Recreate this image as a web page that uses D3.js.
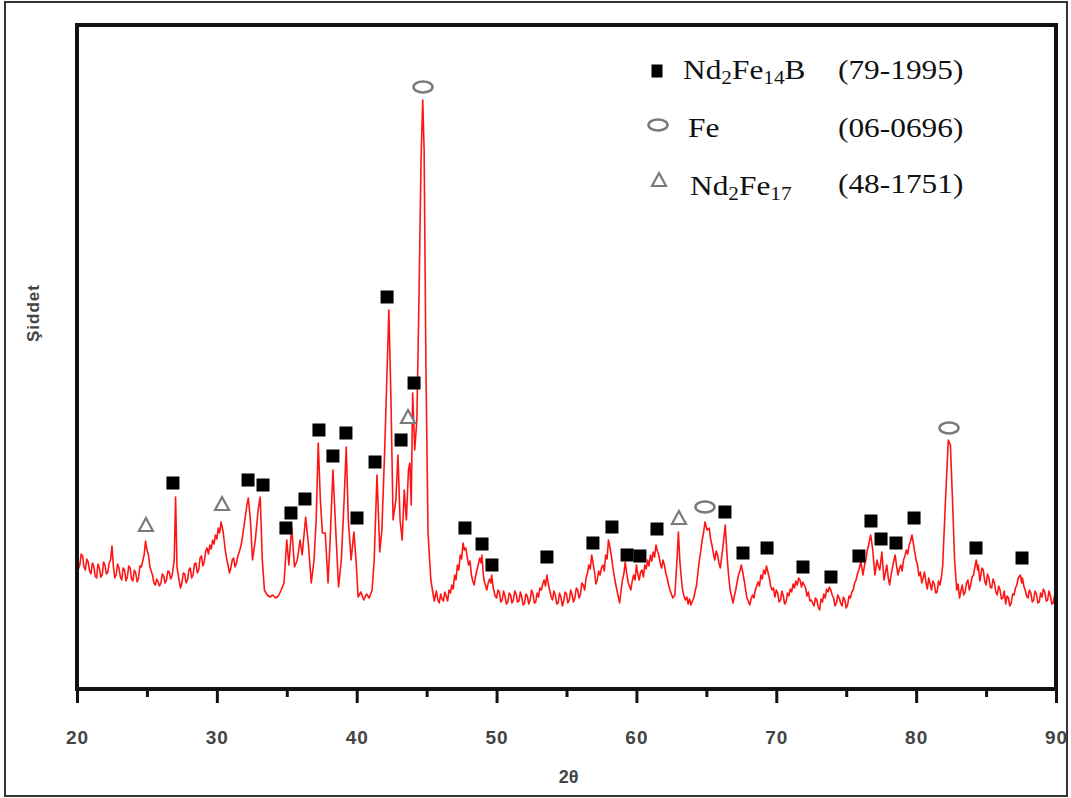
<!DOCTYPE html>
<html>
<head>
<meta charset="utf-8">
<script src="https://cdn.jsdelivr.net/npm/d3@7"></script>
<style>
  body { margin: 0; background: #fff; }
  svg { display: block; }
</style>
</head>
<body>
<svg id="chart" width="1071" height="798"></svg>
<script>
// 2θ (deg), intensity (a.u.)
const pattern = [
  [20.0,1310],[20.1,1200],[20.2,1240],[20.3,1350],[20.4,1330],[20.5,1220],[20.6,1190],[20.7,1300],[20.8,1270],[20.9,1180],
  [21.0,1150],[21.1,1260],[21.2,1230],[21.3,1130],[21.4,1110],[21.5,1250],[21.6,1210],[21.7,1120],[21.8,1140],[21.9,1270],
  [22.0,1240],[22.1,1150],[22.2,1170],[22.3,1260],[22.4,1290],[22.5,1430],[22.6,1230],[22.7,1110],[22.8,1140],[22.9,1250],
  [23.0,1210],[23.1,1120],[23.2,1090],[23.3,1210],[23.4,1190],[23.5,1080],[23.6,1120],[23.7,1230],[23.8,1210],[23.9,1100],
  [24.0,1080],[24.1,1190],[24.2,1160],[24.3,1070],[24.4,1110],[24.5,1230],[24.6,1220],[24.7,1280],[24.8,1340],[24.9,1480],
  [25.0,1390],[25.1,1350],[25.2,1230],[25.3,1180],[25.4,1140],[25.5,1060],[25.6,1040],[25.7,1100],[25.8,1070],[25.9,1030],
  [26.0,1060],[26.1,1150],[26.2,1130],[26.3,1060],[26.4,1090],[26.5,1180],[26.6,1170],[26.7,1100],[26.8,1130],[26.95,1290],
  [27.05,1920],[27.15,1220],[27.3,1090],[27.4,1010],[27.5,1060],[27.6,1160],[27.7,1150],[27.8,1060],[27.9,1090],[28.0,1190],
  [28.1,1210],[28.2,1110],[28.3,1140],[28.4,1250],[28.5,1260],[28.6,1160],[28.7,1190],[28.8,1310],[28.9,1330],[29.0,1230],
  [29.1,1270],[29.2,1380],[29.3,1410],[29.4,1350],[29.5,1440],[29.6,1400],[29.7,1490],[29.8,1450],[29.9,1540],[30.0,1500],
  [30.1,1610],[30.2,1560],[30.3,1670],[30.45,1570],[30.6,1390],[30.7,1300],[30.8,1240],[30.9,1160],[31.0,1210],[31.1,1290],
  [31.2,1310],[31.3,1220],[31.4,1260],[31.5,1330],[31.6,1370],[31.7,1420],[31.8,1490],[32.0,1690],[32.15,1840],[32.25,1910],
  [32.4,1690],[32.55,1290],[32.75,1490],[32.95,1790],[33.1,1920],[33.25,1290],[33.4,990],[33.6,940],[33.8,920],[34.0,940],
  [34.2,910],[34.4,930],[34.6,990],[34.8,1060],[35.0,1490],[35.15,1240],[35.35,1620],[35.55,1220],[35.75,1290],[35.95,1490],
  [36.1,1340],[36.35,1720],[36.55,1440],[36.75,1060],[36.95,1290],[37.1,1690],[37.25,2460],[37.4,1890],[37.55,1560],[37.75,1560],
  [37.95,1060],[38.1,1490],[38.3,2190],[38.5,1590],[38.7,1020],[38.9,1290],[39.1,1890],[39.25,2420],[39.4,1690],[39.6,1290],
  [39.8,1570],[39.95,1290],[40.1,920],[40.3,970],[40.5,890],[40.7,950],[40.9,910],[41.1,990],[41.25,1290],[41.45,2140],
  [41.65,1370],[41.8,1590],[42.0,2390],[42.15,3090],[42.3,3790],[42.45,2890],[42.6,1690],[42.8,1890],[42.95,2340],[43.1,1690],
  [43.25,1490],[43.4,1990],[43.55,1690],[43.7,2190],[43.8,2260],[43.9,1840],[44.0,2960],[44.15,2390],[44.3,2690],[44.45,3890],
  [44.6,5290],[44.72,5890],[44.82,5390],[44.95,3200],[45.1,1560],[45.3,1090],[45.45,960],[45.55,880],[45.6,920],[45.7,980],
  [45.8,890],[45.9,860],[46.0,950],[46.1,900],[46.2,880],[46.3,970],[46.4,930],[46.5,880],[46.6,990],[46.7,960],
  [46.8,1040],[46.9,1000],[47.0,1140],[47.1,1090],[47.2,1240],[47.3,1190],[47.4,1340],[47.5,1300],[47.6,1460],[47.7,1390],
  [47.8,1410],[47.9,1320],[48.0,1240],[48.1,1280],[48.2,1140],[48.3,1080],[48.4,1040],[48.5,1130],[48.6,1190],[48.7,1250],
  [48.8,1310],[48.9,1260],[48.95,1340],[49.05,1150],[49.1,1090],[49.2,1040],[49.3,990],[49.4,1060],[49.5,1100],[49.6,1060],
  [49.65,1140],[49.75,1020],[49.8,990],[49.9,930],[50.0,910],[50.1,990],[50.2,970],[50.3,870],[50.4,890],[50.5,980],
  [50.6,930],[50.7,850],[50.8,870],[50.9,960],[51.0,940],[51.1,860],[51.2,890],[51.3,980],[51.4,950],[51.5,870],
  [51.6,880],[51.7,970],[51.8,920],[51.9,840],[52.0,860],[52.1,950],[52.2,930],[52.3,850],[52.4,890],[52.5,990],
  [52.6,950],[52.7,860],[52.8,870],[52.9,960],[53.0,920],[53.1,1010],[53.2,990],[53.3,1050],[53.4,1090],[53.5,1030],
  [53.6,1140],[53.7,1050],[53.8,990],[53.9,920],[54.0,890],[54.1,980],[54.2,940],[54.3,850],[54.4,860],[54.5,960],
  [54.6,920],[54.7,830],[54.8,880],[54.9,970],[55.0,950],[55.1,860],[55.2,890],[55.3,990],[55.4,940],[55.5,870],
  [55.6,910],[55.7,1010],[55.8,990],[55.9,910],[56.0,950],[56.1,1060],[56.2,1040],[56.3,990],[56.4,1110],[56.5,1160],
  [56.6,1240],[56.7,1200],[56.8,1340],[56.9,1260],[57.0,1170],[57.1,1050],[57.2,1090],[57.3,1180],[57.4,1140],[57.5,1210],
  [57.6,1240],[57.7,1180],[57.8,1340],[57.9,1300],[58.0,1490],[58.1,1420],[58.2,1340],[58.3,1230],[58.4,1140],[58.5,1060],
  [58.6,990],[58.8,860],[58.9,980],[59.0,1090],[59.1,1150],[59.2,1270],[59.3,1160],[59.4,1070],[59.5,1030],[59.6,990],
  [59.7,1080],[59.8,1140],[59.9,1090],[60.0,1240],[60.1,1150],[60.2,1090],[60.3,1170],[60.4,1190],[60.5,1120],[60.6,1240],
  [60.7,1200],[60.8,1290],[60.9,1230],[61.0,1340],[61.1,1280],[61.2,1370],[61.3,1320],[61.4,1440],[61.5,1380],[61.6,1340],
  [61.7,1260],[61.8,1210],[61.9,1290],[62.0,1240],[62.1,1160],[62.2,1110],[62.3,1040],[62.4,990],[62.5,950],[62.6,910],
  [62.75,940],[62.9,1290],[63.0,1570],[63.1,1290],[63.2,1120],[63.3,990],[63.4,930],[63.5,890],[63.6,920],[63.7,850],
  [63.8,900],[63.9,840],[64.0,880],[64.1,910],[64.2,980],[64.3,1040],[64.4,1170],[64.5,1290],[64.6,1380],[64.7,1490],
  [64.8,1560],[64.9,1670],[65.05,1590],[65.2,1610],[65.3,1500],[65.4,1440],[65.5,1360],[65.6,1290],[65.7,1380],[65.8,1340],
  [65.9,1260],[66.0,1210],[66.1,1330],[66.2,1440],[66.35,1640],[66.5,1290],[66.6,1120],[66.7,990],[66.8,930],[66.9,860],
  [67.0,930],[67.1,990],[67.2,1070],[67.3,1140],[67.4,1180],[67.5,1240],[67.6,1170],[67.7,1090],[67.8,1000],[67.9,910],
  [68.0,880],[68.1,840],[68.2,900],[68.3,940],[68.4,910],[68.5,990],[68.6,1030],[68.7,1070],[68.8,1030],[68.9,1140],
  [69.0,1100],[69.1,1190],[69.2,1150],[69.3,1230],[69.4,1170],[69.5,1110],[69.6,1030],[69.7,990],[69.8,1010],[69.9,920],
  [70.0,990],[70.1,960],[70.2,870],[70.3,890],[70.4,980],[70.5,930],[70.6,850],[70.7,870],[70.8,960],[70.9,930],
  [71.0,1000],[71.1,970],[71.2,1050],[71.3,1010],[71.4,1080],[71.5,1040],[71.6,1110],[71.7,1090],[71.8,1020],[71.9,1070],
  [72.0,1040],[72.1,1010],[72.2,930],[72.3,970],[72.4,880],[72.5,890],[72.6,860],[72.7,830],[72.8,910],[72.9,890],
  [73.0,820],[73.1,790],[73.2,900],[73.3,870],[73.4,950],[73.5,910],[73.6,1000],[73.7,970],[73.8,1020],[73.9,990],
  [74.0,940],[74.1,910],[74.2,830],[74.3,860],[74.4,940],[74.5,910],[74.6,860],[74.7,830],[74.8,920],[74.9,890],
  [75.0,810],[75.1,840],[75.2,930],[75.3,910],[75.4,970],[75.5,990],[75.6,1060],[75.7,1090],[75.8,1150],[75.9,1190],
  [76.05,1270],[76.2,1140],[76.3,1230],[76.4,1290],[76.5,1380],[76.6,1440],[76.75,1540],[76.9,1390],[77.0,1220],[77.05,1140],
  [77.2,1290],[77.3,1230],[77.4,1190],[77.55,1370],[77.7,1090],[77.8,1160],[77.9,1240],[78.0,1120],[78.1,1040],[78.2,1130],
  [78.3,1210],[78.4,1280],[78.5,1340],[78.6,1230],[78.7,1140],[78.8,1200],[78.9,1240],[79.0,1180],[79.1,1290],[79.2,1330],
  [79.3,1390],[79.4,1350],[79.5,1440],[79.6,1480],[79.7,1540],[79.8,1460],[79.9,1370],[80.0,1290],[80.1,1240],[80.2,1130],
  [80.3,1170],[80.4,1060],[80.5,1110],[80.6,1170],[80.7,1070],[80.8,1000],[80.9,1110],[81.0,1050],[81.1,990],[81.2,1080],
  [81.3,1050],[81.4,960],[81.5,970],[81.6,1080],[81.7,1040],[81.8,1110],[81.9,1240],[82.1,1890],[82.3,2490],[82.45,2440],
  [82.6,1890],[82.75,1290],[82.9,990],[83.0,1050],[83.1,910],[83.2,980],[83.3,1040],[83.4,940],[83.5,970],[83.6,1060],
  [83.7,1090],[83.8,990],[83.9,1040],[84.0,1120],[84.1,1140],[84.2,1220],[84.3,1290],[84.4,1190],[84.45,1240],[84.55,1080],
  [84.6,1110],[84.7,1210],[84.8,1190],[84.9,1080],[85.0,1040],[85.1,1150],[85.2,1110],[85.3,1020],[85.4,1010],[85.5,1100],
  [85.6,1060],[85.7,970],[85.8,940],[85.9,1030],[86.0,990],[86.1,900],[86.2,910],[86.3,980],[86.4,850],[86.5,930],
  [86.6,910],[86.7,830],[86.8,860],[86.9,950],[87.0,940],[87.1,1010],[87.2,1040],[87.3,1110],[87.45,1140],[87.55,1060],
  [87.6,1110],[87.7,1030],[87.8,990],[87.9,930],[88.0,910],[88.1,990],[88.2,960],[88.3,870],[88.4,890],[88.5,980],
  [88.6,950],[88.7,860],[88.8,870],[88.9,960],[89.0,920],[89.1,1000],[89.2,970],[89.3,880],[89.4,890],[89.5,980],
  [89.6,930],[89.7,850],[89.8,860],[89.9,940],[90.0,910]
];

// phase markers: [2θ, marker height]
const nd2fe14bPeaks = [
  [26.86,2060],[32.23,2090],[33.30,2040],[34.94,1610],[35.30,1760],[36.30,1900],[37.30,2590],[38.30,2330],
  [39.23,2560],[40.02,1710],[41.31,2270],[42.17,3920],[43.17,2490],[44.10,3060],[47.74,1610],[48.96,1450],
  [49.67,1240],[53.60,1320],[56.89,1460],[58.25,1620],[59.33,1340],[60.25,1330],[61.47,1600],[66.33,1770],
  [67.62,1360],[69.34,1410],[71.91,1220],[73.91,1120],[75.91,1330],[76.77,1680],[77.49,1500],[78.56,1460],
  [79.85,1710],[84.28,1410],[87.57,1310]
];
const fePeaks = [[44.74,6020],[64.90,1820],[82.35,2610]];
const nd2fe17Peaks = [[24.93,1640],[30.37,1850],[43.67,2720],[63.04,1710]];

const majorTicks = [20, 30, 40, 50, 60, 70, 80, 90];
const minorTicks = [25, 35, 45, 55, 65, 75, 85];

const legendRows = [
  { parts: [["Nd",0],["2",1],["Fe",0],["14",1],["B",0]], card: "(79-1995)", marker: "square" },
  { parts: [["Fe",0]], card: "(06-0696)", marker: "ellipse" },
  { parts: [["Nd",0],["2",1],["Fe",0],["17",1]], card: "(48-1751)", marker: "triangle" }
];

const svg = d3.select("#chart");
const plotL = 77, plotR = 1056, plotT = 25, plotB = 689;

const x = d3.scaleLinear().domain([20, 90]).range([plotL, plotR]);
const y = d3.scaleLinear().domain([0, 6640]).range([plotB, plotT]);

// outer picture frame
svg.append("rect")
  .attr("x", 5).attr("y", 2).attr("width", 1062).attr("height", 794)
  .attr("fill", "none").attr("stroke", "#333").attr("stroke-width", 2);

// pattern
const line = d3.line().x(d => x(d[0])).y(d => y(d[1]));
svg.append("path")
  .datum(pattern)
  .attr("d", line)
  .attr("fill", "none")
  .attr("stroke", "#ff1414")
  .attr("stroke-width", 1.6)
  .attr("stroke-linejoin", "round");

// axes
const gx = svg.append("g").attr("transform", `translate(0,${plotB})`);
gx.call(d3.axisBottom(x).tickValues(minorTicks).tickSize(8).tickFormat(""));
const gxMajor = svg.append("g").attr("transform", `translate(0,${plotB})`);
gxMajor.call(d3.axisBottom(x).tickValues(majorTicks).tickSize(14).tickPadding(28).tickFormat(d3.format("d")));
svg.selectAll(".domain").remove();
svg.selectAll(".tick line").attr("stroke", "#111").attr("stroke-width", 3);
gxMajor.selectAll(".tick text")
  .attr("font-family", "Liberation Sans, Arial, sans-serif")
  .attr("font-size", 19)
  .attr("font-weight", "bold")
  .attr("fill", "#444")
  .attr("letter-spacing", 1);

// plot frame
svg.append("rect")
  .attr("x", plotL).attr("y", plotT)
  .attr("width", plotR - plotL).attr("height", plotB - plotT)
  .attr("fill", "none").attr("stroke", "#111").attr("stroke-width", 4);

// axis titles
svg.append("text")
  .attr("x", (plotL + plotR) / 2 + 2).attr("y", 783)
  .attr("text-anchor", "middle")
  .attr("font-family", "Liberation Sans, Arial, sans-serif")
  .attr("font-size", 18).attr("font-weight", "bold").attr("fill", "#444")
  .text("2θ");

svg.append("text")
  .attr("transform", "translate(39,313) rotate(-90)")
  .attr("text-anchor", "middle")
  .attr("font-family", "Liberation Sans, Arial, sans-serif")
  .attr("font-size", 17).attr("font-weight", "bold").attr("fill", "#444")
  .attr("letter-spacing", 1)
  .text("Şiddet");

// markers
function drawMarker(g, type, cx, cy) {
  if (type === "square") {
    g.append("rect").attr("x", cx - 6.5).attr("y", cy - 6.5).attr("width", 13).attr("height", 13)
      .attr("fill", "#000");
  } else if (type === "ellipse") {
    g.append("ellipse").attr("cx", cx).attr("cy", cy).attr("rx", 9.5).attr("ry", 5.5)
      .attr("fill", "#fff").attr("stroke", "#7a7a7a").attr("stroke-width", 2.5);
  } else {
    g.append("path")
      .attr("d", `M${cx},${cy - 7} L${cx + 7},${cy + 6} L${cx - 7},${cy + 6} Z`)
      .attr("fill", "#fff").attr("stroke", "#7a7a7a").attr("stroke-width", 2.2)
      .attr("stroke-linejoin", "miter");
  }
}
const gm = svg.append("g");
nd2fe14bPeaks.forEach(d => drawMarker(gm, "square", x(d[0]), y(d[1])));
fePeaks.forEach(d => drawMarker(gm, "ellipse", x(d[0]), y(d[1])));
nd2fe17Peaks.forEach(d => drawMarker(gm, "triangle", x(d[0]), y(d[1])));

// legend
const legX = [683, 688, 690];
const legY = [79, 137, 195];
const markerPos = [[657, 71], [658, 125], [659, 180]];
legendRows.forEach((row, i) => {
  if (row.marker === "square") {
    svg.append("rect").attr("x", markerPos[i][0] - 5.5).attr("y", markerPos[i][1] - 6.5)
      .attr("width", 11).attr("height", 13).attr("fill", "#000");
  } else {
    drawMarker(svg, row.marker, markerPos[i][0], markerPos[i][1]);
  }
  const t = svg.append("text")
    .attr("transform", `translate(${legX[i]},${legY[i]}) scale(1.12,1)`)
    .attr("font-family", "Liberation Serif, Times New Roman, serif")
    .attr("font-size", 28).attr("fill", "#111");
  row.parts.forEach(p => {
    const ts = t.append("tspan").text(p[0]);
    if (p[1]) ts.attr("font-size", 19).attr("y", 5);
    else ts.attr("y", 0);
  });
  svg.append("text")
    .attr("transform", `translate(838,${legY[i] - (i === 2 ? 2 : 0)}) scale(1.12,1)`)
    .attr("font-family", "Liberation Serif, Times New Roman, serif")
    .attr("font-size", 28).attr("fill", "#111")
    .text(row.card);
});
</script>
</body>
</html>
